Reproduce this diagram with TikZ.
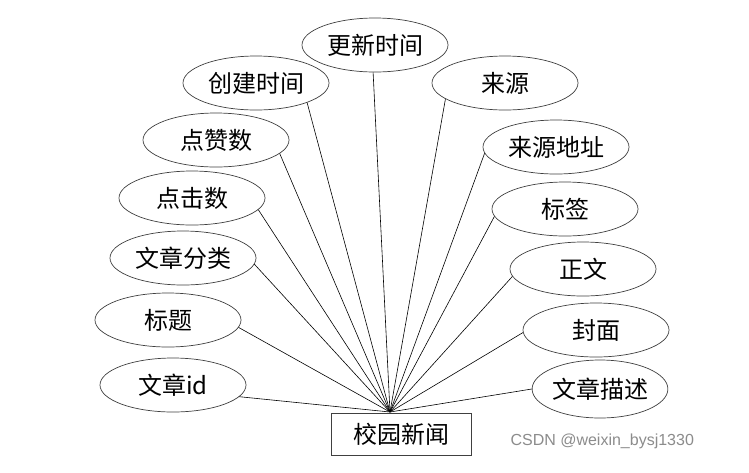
\documentclass[tikz,border=0pt]{standalone}
\usepackage{fontspec}
\setmainfont{Liberation Sans}
\newfontfamily\cjk{Noto Sans CJK SC}
\usetikzlibrary{shapes.geometric}
\begin{document}
\begin{tikzpicture}[x=1pt,y=-1pt,
  attr/.style={ellipse,draw=black!75,line width=0.7pt,minimum width=146pt,minimum height=54pt,inner sep=0pt,font=\cjk\fontsize{24}{24}\selectfont},
  ent/.style={rectangle,draw=black!75,line width=0.7pt,minimum width=140pt,minimum height=42pt,inner sep=0pt,font=\cjk\fontsize{24}{24}\selectfont},
  link/.style={draw=black,line width=0.6pt}]
\useasboundingbox (0,0) rectangle (749,472);
\fill[white] (0,0) rectangle (749,472);
\node[ent] (e) at (401,434) {校园新闻};
\coordinate (hub) at (390,412);
\node[attr] (a1) at (375,45) {更新时间};
\node[attr] (a2) at (256,83) {创建时间};
\node[attr] (a3) at (505,83) {来源};
\node[attr] (a4) at (216,140) {点赞数};
\node[attr] (a5) at (556,147) {来源地址};
\node[attr] (a6) at (192,198) {点击数};
\node[attr] (a7) at (565,209) {标签};
\node[attr] (a8) at (183,258) {文章分类};
\node[attr] (a9) at (583,269) {正文};
\node[attr] (a10) at (168,320) {标题};
\node[attr] (a11) at (596,330) {封面};
\node[attr] (a12) at (173,385) {文章id};
\node[attr,minimum width=129pt,minimum height=58pt] (a13) at (600,389) {文章描述};
\foreach \n/\ang in {1/-94,2/-21,3/-165,4/-12,5/-175,6/-10,7/-174,8/-5,9/-174,10/-6,11/-178,12/-10,13/180}
  {\draw[link] (hub) -- (a\n.\ang);}
\node[text=black!45,font=\fontsize{16}{16}\selectfont,anchor=west] (wm) at (507,441) {CSDN @weixin\_bysj1330};
\end{tikzpicture}
\end{document}
